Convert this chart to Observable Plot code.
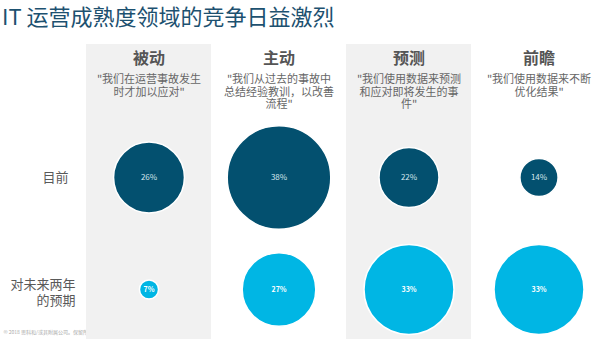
<!DOCTYPE html>
<html><head><meta charset="utf-8">
<script src="https://cdn.jsdelivr.net/npm/d3@7"></script>
<script src="https://cdn.jsdelivr.net/npm/@observablehq/plot@0.6"></script>
<style>
body{margin:0;background:#fff;font-family:"Noto Sans CJK SC",sans-serif;}
#title{height:30px;line-height:30px;font-size:22px;color:#1d5170;padding-left:2px;white-space:nowrap;}
#chart svg{display:block;}
</style></head><body>
<div id="title">IT 运营成熟度领域的竞争日益激烈</div>
<div id="chart"></div>
<script>
const stages = ["被动", "主动", "预测", "前瞻"];
const quotes = [
  "\"我们在运营事故发生\n时才加以应对\"",
  "\"我们从过去的事故中\n总结经验教训，以改善\n流程\"",
  "\"我们使用数据来预测\n和应对即将发生的事\n件\"",
  "\"我们使用数据来不断\n优化结果\""
];
const rows = ["目前", "对未来两年的预期"];
const rowLabels = ["目前", "对未来两年\n的预期"];
const current = [26, 38, 22, 14];
const future = [7, 27, 33, 33];
const shaded = ["被动", "预测"];
const copyright = "© 2018 思科和/或其附属公司。保留所有权利。";

const data = [
  ...stages.map((s, i) => ({stage: s, row: rows[0], value: current[i]})),
  ...stages.map((s, i) => ({stage: s, row: rows[1], value: future[i]}))
];
const headerData = stages.map((s, i) => ({stage: s, quote: quotes[i]}));

const dark = "#03506f", light = "#00b6e4";
const font = "'Noto Sans CJK SC', sans-serif";

const chart = Plot.plot({
  width: 600,
  height: 322,
  marginTop: 14,
  marginBottom: 13,
  marginLeft: 0,
  marginRight: 0,
  style: {fontFamily: font, background: "#fff"},
  x: {type: "band", domain: stages, range: [85, 601.5], paddingInner: 0.042, paddingOuter: 0, axis: null},
  y: {type: "point", domain: rows, range: [146.5, 258.5], padding: 0, axis: null},
  r: {type: "linear", domain: [0, 38], range: [0, 51.8]},
  color: {domain: rows, range: [dark, light]},
  marks: [
    Plot.text([copyright], {text: d => d, frameAnchor: "bottom-left", dx: 3, dy: -6, fontSize: 5, fill: "#aaa", textAnchor: "start"}),
    Plot.cell(shaded, {x: d => d, fill: "#f1f1f1"}),
    Plot.text(headerData, {x: "stage", text: "stage", frameAnchor: "top", dy: 14, lineAnchor: "middle", fontSize: 16, fontWeight: "bold", fill: "#555"}),
    Plot.text(headerData, {x: "stage", text: "quote", frameAnchor: "top", dy: 30, lineAnchor: "top", lineHeight: 1.12, fontSize: 11, fill: "#666"}),
    Plot.text([rows[0]], {y: d => d, text: () => rowLabels[0], frameAnchor: "left", dx: 68, textAnchor: "end", fontSize: 13, fill: "#595959"}),
    Plot.text([rows[1]], {y: d => d, text: () => rowLabels[1], frameAnchor: "left", dx: 75, dy: 2, textAnchor: "end", lineHeight: 1.23, fontSize: 13, fill: "#595959"}),
    Plot.dot(data, {x: "stage", y: "row", r: "value", fill: "row", stroke: "white", strokeWidth: 1.5}),
    Plot.text(data.filter(d => d.row === rows[0]), {x: "stage", y: "row", text: d => d.value + "%", fontSize: 8, fill: "#d6e6ee"}),
    Plot.text(data.filter(d => d.row === rows[1]), {x: "stage", y: "row", text: d => d.value + "%", fontSize: 7, fill: "#ffffff", fontWeight: "bold"})
  ]
});
document.getElementById("chart").appendChild(chart);
</script>
</body></html>
